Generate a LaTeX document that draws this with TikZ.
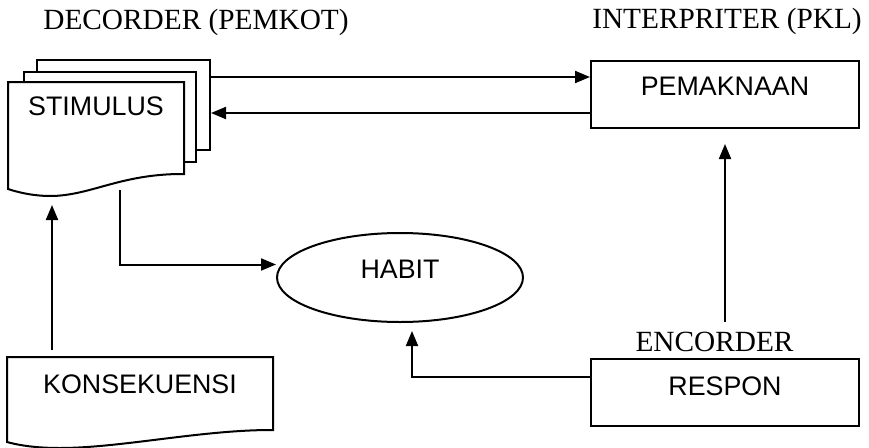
\documentclass[tikz,border=0pt]{standalone}
\usepackage{fontspec}
\setmainfont{Liberation Serif}
\setsansfont{Liberation Sans}
\usetikzlibrary{arrows.meta,backgrounds,shapes.geometric}
\tikzset{
  dg diagram/.style={x=1pt, y=-1pt, line width=2pt},
  dg title/.style={font=\rmfamily\fontsize{29.3}{31}\selectfont,
    anchor=base, inner sep=0pt},
  dg box/.style={font=\sffamily\fontsize{26.8}{28}\selectfont,
    anchor=north west, inner xsep=0pt, text height=19pt},
  dg oval/.style={draw, ellipse, font=\sffamily\fontsize{26.8}{28}\selectfont,
    text height=19pt, text depth=18pt},
  dg page/.style={draw, fill=white, anchor=north west, inner sep=0pt},
  dg arrow/.style={-{Triangle[length=15pt,width=12pt]}}
}
\begin{document}
\begin{tikzpicture}[dg diagram]
\useasboundingbox (0,0) rectangle (869,447);
% headings
\node[dg title] (dec) at (196,29) {DECORDER (PEMKOT)};
\node[dg title] (interp) at (727,28) {INTERPRITER (PKL)};
\node[dg title] (enc) at (714.5,351) {ENCORDER};
% boxes
\node[dg box, draw, minimum width=268pt, inner ysep=15pt, text depth=18pt] (pem) at (590,60) {PEMAKNAAN};
\node[dg box, draw, minimum width=268pt, inner ysep=17pt, text depth=14pt] (resp) at (590,358) {RESPON};
\node[dg box, minimum width=174pt, inner ysep=13pt, text depth=60pt] (stim) at (8,82) {STIMULUS};
\node[dg box, minimum width=264pt, inner ysep=16pt, text depth=32pt] (kons) at (7,357) {KONSEKUENSI};
\node[dg oval, minimum width=246pt, minimum height=89pt] (habit) at (400,277.5) {HABIT};
% stacked stimulus pages
\begin{scope}[on background layer={line width=2pt}]
\node[dg page, minimum width=173pt, minimum height=90pt] (stimC) at (36,59) {};
\node[dg page, minimum width=172pt, minimum height=90pt] (stimB) at (23,71) {};
\draw[fill=white] ([yshift=15pt]stim.south east) -- (stim.north east) -- (stim.north west) -- (stim.south west)
  .. controls +(15,5) and +(-12,0) .. ++(42,7)
  .. controls +(40,0) and +(-62,0) .. ++(132,-22) -- cycle;
\end{scope}
\draw ([yshift=12pt]kons.south east) -- (kons.north east) -- (kons.north west) -- (kons.south west)
  .. controls +(18,5) and +(-15,0) .. ++(53,6)
  .. controls +(60,0) and +(-70,0) .. ++(211,-18) -- cycle;
% connectors
\draw[dg arrow] ([yshift=-18pt]stimC.north east) -- ([yshift=-17pt]pem.north west);
\draw[dg arrow] ([yshift=-53pt]pem.north west) -- ([yshift=-54pt]stimC.north east);
\draw[dg arrow] ([xshift=112pt,yshift=-1pt]stim.south west) |- ([yshift=13pt]habit.west);
\draw[dg arrow] ([xshift=45pt,yshift=7pt]kons.north west) -- ([xshift=44pt,yshift=-16pt]stim.south west);
\draw[dg arrow] ([yshift=-19pt]resp.north west) -| ([xshift=12pt,yshift=-8pt]habit.south);
\draw[dg arrow] ([yshift=36pt]resp.north) -- ([yshift=-15pt]pem.south);
\end{tikzpicture}
\end{document}
